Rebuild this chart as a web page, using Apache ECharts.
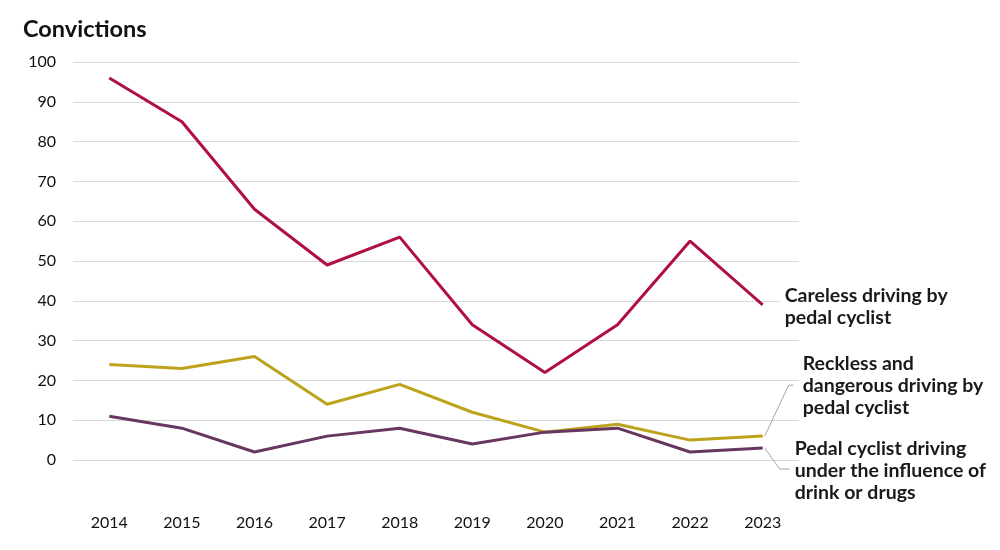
<!DOCTYPE html>
<html><head><meta charset="utf-8">
<script src="https://cdn.jsdelivr.net/npm/echarts@6/dist/echarts.min.js"></script>
<style>html,body{margin:0;padding:0;background:#fff}#c{width:1000px;height:550px}</style>
</head><body><div id="c"></div>
<script>
const years = ['2014','2015','2016','2017','2018','2019','2020','2021','2022','2023'];
const careless = [96, 85, 63, 49, 56, 34, 22, 34, 55, 39];
const reckless = [24, 23, 26, 14, 19, 12, 7, 9, 5, 6];
const dui = [11, 8, 2, 6, 8, 4, 7, 8, 2, 3];
const names = ['Careless driving by\npedal cyclist', 'Reckless and\ndangerous driving by\npedal cyclist', 'Pedal cyclist driving\nunder the influence of\ndrink or drugs'];
const yTicks = [0, 10, 20, 30, 40, 50, 60, 70, 80, 90, 100];

const FONT = 'Lato';
const chart = echarts.init(document.getElementById('c'));
function mk(name, data, color, offset, bg) {
  return {
    name, type: 'line', data, showSymbol: false, symbol: 'none',
    lineStyle: {color, width: 3}, itemStyle: {color},
    emphasis: {disabled: true},
    endLabel: {show: true, formatter: name, distance: 0, offset, align: 'left', verticalAlign: 'middle',
      color: '#1a1a1a', fontFamily: FONT, fontWeight: 'bold', fontSize: 19.5, lineHeight: 22,
      backgroundColor: bg ? '#fff' : 'transparent', padding: [0, 0, 0, 5]}
  };
}
chart.setOption({
  animation: false,
  title: {text: 'Convictions', left: 18, top: 12, textStyle: {fontFamily: FONT, fontWeight: 'bold', fontSize: 23.5, color: '#111'}},
  grid: {left: 73, right: 201, top: 62, bottom: 90},
  xAxis: {type: 'category', data: years, boundaryGap: true,
    axisLine: {show: false}, axisTick: {show: false},
    axisLabel: {fontFamily: FONT, fontSize: 16, color: '#111', margin: 55}},
  yAxis: {type: 'value', min: 0, max: 100, interval: 10,
    axisLine: {show: false}, axisTick: {show: false},
    axisLabel: {fontFamily: FONT, fontSize: 16, color: '#111', margin: 17, formatter: v => yTicks.includes(v) ? String(v) : ''},
    splitLine: {lineStyle: {color: '#d9d9d9', width: 1}}},
  series: [
    mk(names[0], careless, '#B0103F', [17, 2], true),
    mk(names[1], reckless, '#BDA21C', [35, -50], false),
    mk(names[2], dui, '#673760', [27, 23], false)
  ]
});
// leader lines anchored to end points
const n = years.length - 1;
const pR = chart.convertToPixel({gridIndex: 0}, [n, reckless[n]]);
const pD = chart.convertToPixel({gridIndex: 0}, [n, dui[n]]);
chart.setOption({graphic: [
  {type: 'polyline', z: 1, shape: {points: [[pR[0] + 2, pR[1]], [pR[0] + 26, pR[1] - 51], [pR[0] + 31, pR[1] - 51]]}, style: {stroke: '#a6a6a6', lineWidth: 1, fill: null}},
  {type: 'polyline', z: 1, shape: {points: [[pD[0] + 2, pD[1]], [pD[0] + 17, pD[1] + 21], [pD[0] + 27, pD[1] + 21]]}, style: {stroke: '#a6a6a6', lineWidth: 1, fill: null}}
]});
</script></body></html>
